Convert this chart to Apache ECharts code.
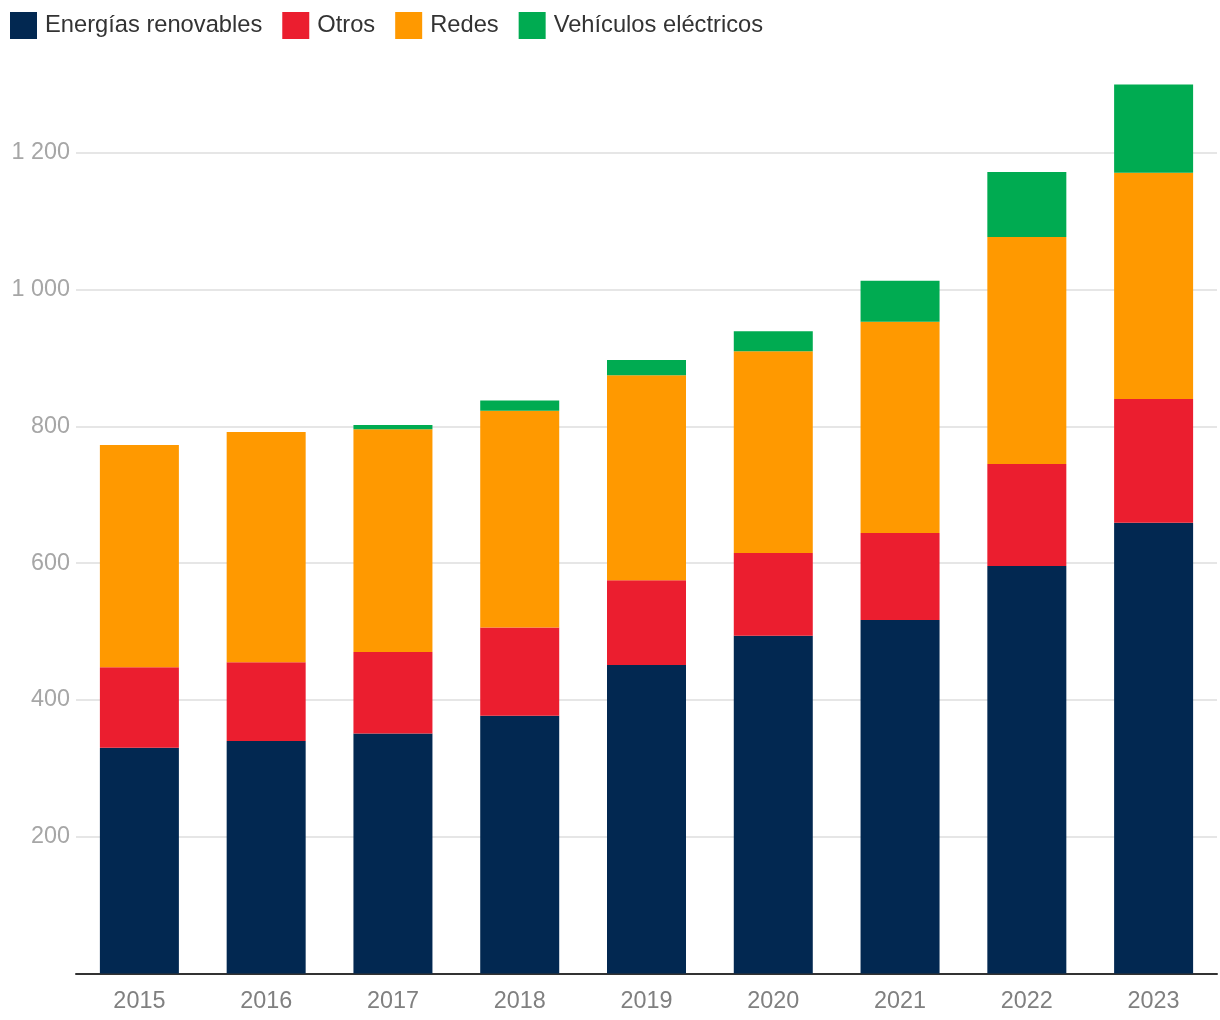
<!DOCTYPE html>
<html>
<head>
<meta charset="utf-8">
<script src="https://cdn.jsdelivr.net/npm/echarts@6/dist/echarts.min.js"></script>
<style>
html,body{margin:0;padding:0;background:#fff;}
#chart{width:1220px;height:1020px;}
</style>
</head>
<body>
<div id="chart"></div>
<script>
const years = ['2015','2016','2017','2018','2019','2020','2021','2022','2023'];
const renovables = [330, 340, 351, 377, 451, 494, 517, 596, 659];
const otros = [118, 115, 119, 129, 124, 121, 127, 149, 181];
const redes = [325, 337, 326, 317, 300, 295, 309, 332, 331];
const vehiculos = [0, 0, 6, 15, 22, 29, 60, 95, 129];
const seriesNames = ['Energías renovables', 'Otros', 'Redes', 'Vehículos eléctricos'];
const colors = ['#022851', '#eb1e2f', '#ff9900', '#00ab51'];

const FONT = '"Liberation Sans", Arial, Helvetica, sans-serif';
const chart = echarts.init(document.getElementById('chart'), null, {renderer: 'canvas'});

function fmt(v) {
  const s = String(Math.round(v));
  return s.replace(/\B(?=(\d{3})+(?!\d))/g, ' ');
}

const dataSets = [renovables, otros, redes, vehiculos];

chart.setOption({
  animation: false,
  backgroundColor: '#ffffff',
  color: colors,
  textStyle: {fontFamily: FONT},
  legend: {
    left: 5,
    top: 7,
    icon: 'rect',
    itemWidth: 27,
    itemHeight: 27,
    itemGap: 20,
    textStyle: {fontSize: 23.7, color: '#333333', fontFamily: FONT, padding: [0, 0, 0, 3]},
    data: seriesNames
  },
  grid: {left: 76, right: 3, top: 84.5, bottom: 46.5, containLabel: false},
  xAxis: {
    type: 'category',
    data: years,
    axisLine: {show: true, lineStyle: {color: '#333333', width: 2}},
    axisTick: {show: false},
    axisLabel: {fontSize: 23.4, color: '#808080', margin: 17, fontFamily: FONT}
  },
  yAxis: {
    type: 'value',
    min: 0,
    max: 1300,
    interval: 200,
    axisLine: {show: false},
    axisTick: {show: false},
    axisLabel: {
      fontSize: 23.4, color: '#a6a6a6', margin: 6, fontFamily: FONT,
      showMinLabel: false, showMaxLabel: false,
      formatter: fmt
    },
    splitLine: {show: true, showMinLine: false, showMaxLine: false, lineStyle: {color: '#e6e6e6', width: 2}}
  },
  series: seriesNames.map((name, i) => ({
    name: name,
    type: 'bar',
    stack: 'total',
    barWidth: 79,
    itemStyle: {color: colors[i]},
    data: dataSets[i]
  }))
});
</script>
</body>
</html>
